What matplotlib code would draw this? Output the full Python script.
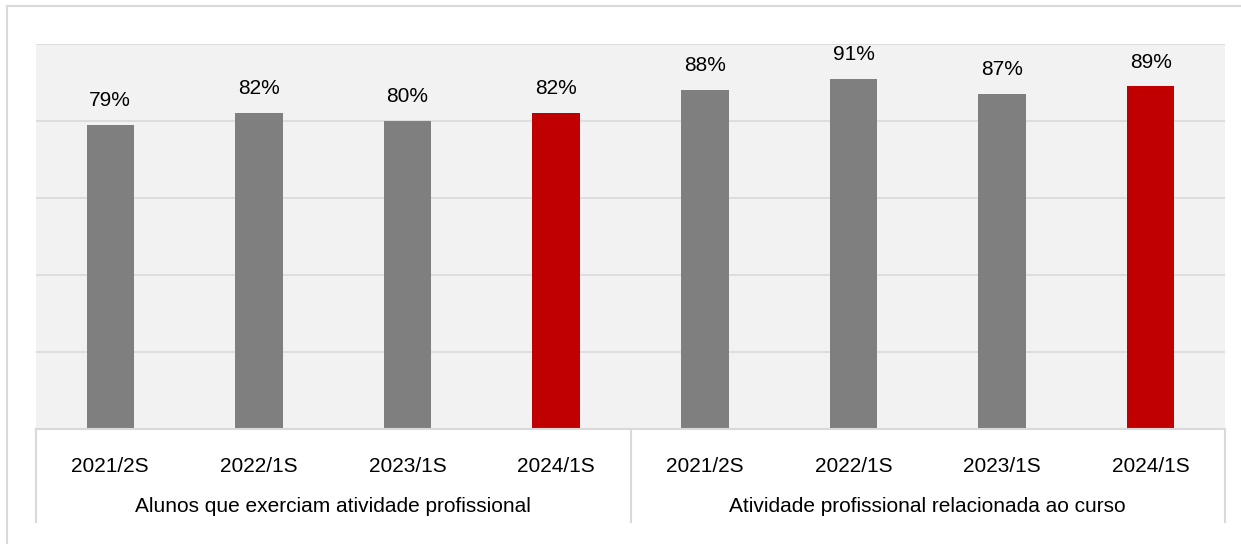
import matplotlib.pyplot as plt
from matplotlib.lines import Line2D
from matplotlib.transforms import blended_transform_factory

plt.rcParams['font.family'] = ['Liberation Sans', 'DejaVu Sans']

# data
periods = ['2021/2S', '2022/1S', '2023/1S', '2024/1S']
groups = ['Alunos que exerciam atividade profissional',
          'Atividade profissional relacionada ao curso']
exerciam = [79, 82, 80, 82]
relacionada = [88, 91, 87, 89]

values = exerciam + relacionada
labels = periods + periods
colors = ['#7f7f7f', '#7f7f7f', '#7f7f7f', '#c00000'] * 2

W, H = 1241, 544
fig = plt.figure(figsize=(W / 100, H / 100), dpi=100)

# plot area in pixels: x 36..1225, y 44..429
ax = fig.add_axes([36 / W, (H - 429) / H, 1189 / W, 385 / H])
ax.set_facecolor('#f2f2f2')
x = list(range(len(values)))
ax.bar(x, values, width=0.32, color=colors, zorder=3)
ax.set_xlim(-0.5, len(values) - 0.5)
ax.set_ylim(0, 100)
ax.set_yticks([20, 40, 60, 80, 100])
ax.yaxis.grid(True, color='#d9d9d9', linewidth=1.2, zorder=0)
ax.tick_params(left=False, bottom=False, labelleft=False, labelbottom=False)
for s in ax.spines.values():
    s.set_visible(False)

fs = 15
for xi, v in zip(x, values):
    ax.annotate(f'{v}%', (xi, v), xytext=(0, 17.5), textcoords='offset points',
                ha='center', va='center', fontsize=fs, color='black')

# category table below the axis
trans = blended_transform_factory(ax.transData, fig.transFigure)
for xi, lab in zip(x, labels):
    ax.text(xi, 1 - 466 / H, lab, transform=trans, ha='center', va='center',
            fontsize=fs, color='black')
for gi, g in enumerate(groups):
    ax.text(gi * 4 + 1.5, 1 - 506 / H, g, transform=trans, ha='center',
            va='center', fontsize=fs, color='black')

line_color = '#d9d9d9'
for xv in [-0.5, 3.5, 7.5]:
    fig.add_artist(Line2D([xv, xv], [1 - 429 / H, 1 - 522 / H], color=line_color,
                          linewidth=1.5, transform=trans))
fig.add_artist(Line2D([36 / W, 1225 / W], [1 - 429 / H, 1 - 429 / H],
                      color=line_color, linewidth=1.5))

# outer chart frame
fig.add_artist(Line2D([7 / W, 7 / W], [1 - 6 / H, 0], color=line_color, linewidth=1.5))
fig.add_artist(Line2D([7 / W, 1], [1 - 6 / H, 1 - 6 / H], color=line_color, linewidth=1.5))

fig.savefig('out.png', dpi=100, facecolor='white')
